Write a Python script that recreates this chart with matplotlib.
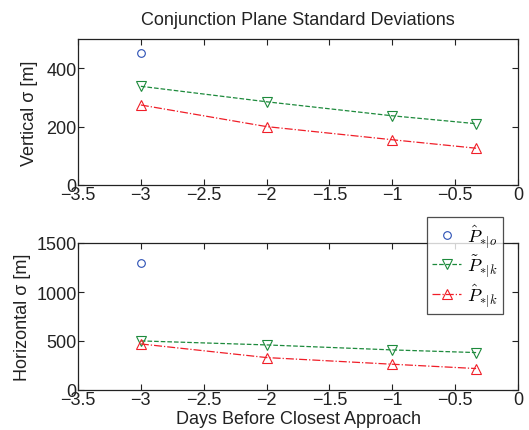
import matplotlib
matplotlib.use("Agg")
import matplotlib.pyplot as plt

plt.rcParams['font.family'] = ['Liberation Sans', 'DejaVu Sans']
plt.rcParams['mathtext.fontset'] = 'cm'

days = [-3, -2, -1, -1/3]
obs_day = [-3]
vert_obs = [451]
vert_tilde = [338, 285, 237, 210]
vert_hat = [274, 200, 155, 126]
horiz_obs = [1300]
horiz_tilde = [501, 460, 409, 382]
horiz_hat = [470, 331, 263, 219]
xticks = [-3.5, -3, -2.5, -2, -1.5, -1, -0.5, 0]
labels = [r'$\hat{P}_{*|o}$', r'$\tilde{P}_{*|k}$', r'$\hat{P}_{*|k}$']

c_blue = '#2a4fb5'
c_green = '#1d8a3c'
c_red = '#f01e28'

fig = plt.figure(figsize=(5.29, 4.31), dpi=100)
W, H = 529, 431
ax1 = fig.add_axes([78/W, 1-186/H, 440/W, 146/H])
ax2 = fig.add_axes([78/W, 1-391/H, 440/W, 147/H])

def style(ax, ylim, yticks):
    ax.set_xlim(-3.5, 0)
    ax.set_ylim(*ylim)
    ax.set_xticks(xticks)
    ax.set_xticklabels(['\u22123.5', '\u22123', '\u22122.5', '\u22122', '\u22121.5', '\u22121', '\u22120.5', '0'])
    ax.set_yticks(yticks)
    ax.tick_params(direction='in', top=True, right=True, labelsize=13, length=4, pad=1, colors='#222222')
    for s in ax.spines.values():
        s.set_linewidth(0.9)
        s.set_color('#222222')

handles = []
for ax, o, t, h in [(ax1, vert_obs, vert_tilde, vert_hat), (ax2, horiz_obs, horiz_tilde, horiz_hat)]:
    l1, = ax.plot(obs_day, o, linestyle='none', marker='o', mfc='none', mec=c_blue, ms=5.5, mew=0.8, label=labels[0])
    l2, = ax.plot(days, t, linestyle='--', color=c_green, marker='v', mfc='none', mec=c_green, ms=6.5, mew=0.8, lw=0.9, label=labels[1])
    l3, = ax.plot(days, h, linestyle='-.', color=c_red, marker='^', mfc='none', mec=c_red, ms=6.5, mew=0.8, lw=0.9, label=labels[2])
    handles = [l1, l2, l3]

style(ax1, (0, 500), [0, 200, 400])
style(ax2, (0, 1500), [0, 500, 1000, 1500])

ax1.set_title('Conjunction Plane Standard Deviations', fontsize=13, color='#222222', pad=11)
ax1.set_ylabel('Vertical \u03c3 [m]', fontsize=13, color='#222222', labelpad=6)
ax2.set_ylabel('Horizontal \u03c3 [m]', fontsize=13, color='#222222', labelpad=4)
ax2.set_xlabel('Days Before Closest Approach', fontsize=13, color='#222222', labelpad=1)

leg = fig.legend(handles, labels, loc='upper left', bbox_to_anchor=(427/W, 1-218/H), fontsize=13,
                 frameon=True, fancybox=False, edgecolor='#222222', borderpad=0.3,
                 handlelength=1.6, handletextpad=0.3, labelspacing=0.15, borderaxespad=0)
leg.get_frame().set_linewidth(0.9)
leg.set_zorder(10)

fig.savefig('out.png', dpi=100)
